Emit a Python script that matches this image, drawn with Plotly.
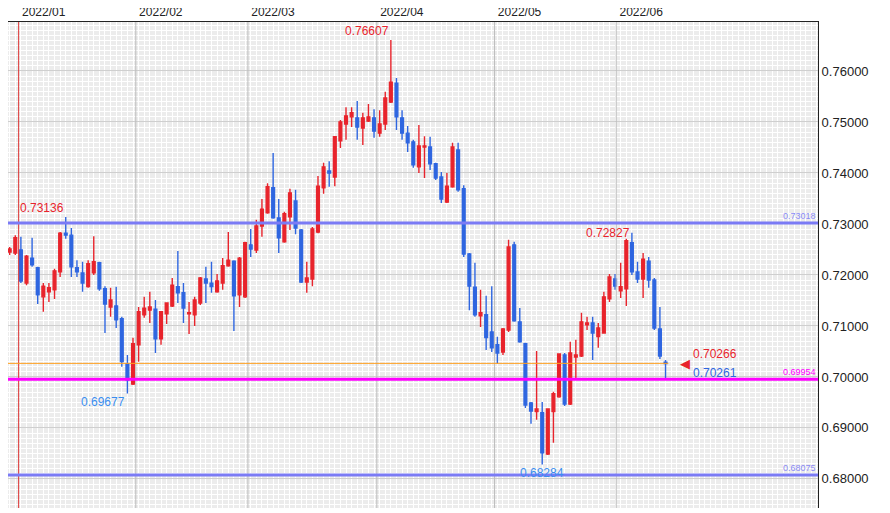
import plotly.graph_objects as go

# daily OHLC, 2021/12/31 .. 2022/06
opens = [0.7245, 0.7243, 0.7249, 0.7184, 0.7233, 0.7214, 0.7157, 0.7167, 0.7171, 0.7206,
         0.7282, 0.7278, 0.7214, 0.7204, 0.7177, 0.7204, 0.7224, 0.7173, 0.7137, 0.7139,
         0.7114, 0.7026, 0.6986, 0.7063, 0.7122, 0.7131, 0.7133, 0.7075, 0.7124, 0.7139,
         0.7177, 0.7165, 0.7124, 0.7122, 0.7145, 0.7192, 0.7184, 0.7167, 0.7184, 0.7218,
         0.7227, 0.7161, 0.7157, 0.7259, 0.7249, 0.7296, 0.7322, 0.7371, 0.7312, 0.7265,
         0.7314, 0.7345, 0.7288, 0.7186, 0.7192, 0.7284, 0.7371, 0.7404, 0.7392, 0.7463,
         0.7496, 0.7510, 0.7508, 0.7488, 0.7502, 0.7508, 0.7478, 0.7496, 0.7539, 0.7576,
         0.7508, 0.7478, 0.7461, 0.7412, 0.7451, 0.7451, 0.7418, 0.7392, 0.7343, 0.7373,
         0.7445, 0.7369, 0.7241, 0.7176, 0.7120, 0.7122, 0.7088, 0.7063, 0.7049, 0.7092,
         0.7259, 0.7108, 0.7065, 0.6949, 0.6932, 0.6930, 0.6849, 0.6932, 0.6961, 0.7043,
         0.6947, 0.7039, 0.7041, 0.7102, 0.7106, 0.7079, 0.7086, 0.7153, 0.7192, 0.7169,
         0.7173, 0.7263, 0.7206, 0.7192, 0.7227, 0.7190, 0.7094, 0.7029]
highs = [0.7255, 0.7278, 0.7275, 0.7239, 0.7273, 0.7216, 0.7184, 0.7184, 0.7212, 0.7284,
         0.73136, 0.7292, 0.7229, 0.7226, 0.7229, 0.7276, 0.7226, 0.7178, 0.7175, 0.7177,
         0.7118, 0.7043, 0.7077, 0.7137, 0.7157, 0.7167, 0.7151, 0.7128, 0.7145, 0.7194,
         0.7247, 0.7184, 0.7147, 0.7157, 0.7196, 0.7216, 0.7226, 0.7202, 0.7233, 0.7284,
         0.7229, 0.7235, 0.7265, 0.7290, 0.7308, 0.7349, 0.7380, 0.7439, 0.7349, 0.7324,
         0.7369, 0.7367, 0.7290, 0.7226, 0.7294, 0.7394, 0.7420, 0.7423, 0.7472, 0.7504,
         0.7529, 0.7529, 0.7541, 0.7518, 0.7535, 0.7525, 0.7523, 0.7559, 0.76607, 0.7586,
         0.7523, 0.7492, 0.7465, 0.7494, 0.7472, 0.7471, 0.7420, 0.7402, 0.7400, 0.7459,
         0.7459, 0.7376, 0.7243, 0.7224, 0.7171, 0.7159, 0.7178, 0.7079, 0.7096, 0.7269,
         0.7265, 0.7135, 0.7067, 0.6951, 0.7051, 0.6951, 0.6937, 0.6971, 0.7045, 0.7047,
         0.7069, 0.7073, 0.7126, 0.7118, 0.7118, 0.7106, 0.7167, 0.7202, 0.7202, 0.7224,
         0.7271, 0.72827, 0.7226, 0.7243, 0.7235, 0.7194, 0.7137, 0.7033]
lows = [0.7239, 0.7239, 0.7184, 0.7180, 0.7216, 0.7143, 0.7128, 0.7147, 0.7153, 0.7196,
        0.7271, 0.7196, 0.7196, 0.7167, 0.7175, 0.7200, 0.7169, 0.7086, 0.7118, 0.7096,
        0.7020, 0.69677, 0.6984, 0.7030, 0.7116, 0.7106, 0.7047, 0.7063, 0.7104, 0.7137,
        0.7145, 0.7106, 0.7084, 0.7100, 0.7141, 0.7145, 0.7165, 0.7165, 0.7171, 0.7216,
        0.7090, 0.7137, 0.7155, 0.7235, 0.7243, 0.7275, 0.7320, 0.7310, 0.7243, 0.7263,
        0.7288, 0.7280, 0.7184, 0.7165, 0.7178, 0.7282, 0.7359, 0.7373, 0.7374, 0.7449,
        0.7465, 0.7490, 0.7465, 0.7455, 0.7500, 0.7469, 0.7471, 0.7484, 0.7537, 0.7484,
        0.7465, 0.7441, 0.7410, 0.7400, 0.7390, 0.7406, 0.7386, 0.7341, 0.7341, 0.7371,
        0.7363, 0.7235, 0.7131, 0.7118, 0.7098, 0.7053, 0.7049, 0.7026, 0.7043, 0.7088,
        0.7108, 0.7067, 0.6939, 0.6908, 0.6916, 0.68284, 0.6847, 0.6871, 0.6959, 0.6943,
        0.6945, 0.6998, 0.7039, 0.7092, 0.7033, 0.7057, 0.7086, 0.7147, 0.7171, 0.7155,
        0.7139, 0.7200, 0.7184, 0.7155, 0.7175, 0.7092, 0.7035, 0.6996]
closes = [0.7251, 0.7273, 0.7188, 0.7237, 0.7220, 0.7161, 0.7178, 0.7175, 0.7208, 0.7282,
          0.7278, 0.7216, 0.7206, 0.7184, 0.7222, 0.7226, 0.7173, 0.7143, 0.7151, 0.7112,
          0.7030, 0.6994, 0.7065, 0.7128, 0.7135, 0.7137, 0.7075, 0.7128, 0.7145, 0.7180,
          0.7165, 0.7135, 0.7126, 0.7151, 0.7194, 0.7184, 0.7177, 0.7188, 0.7218, 0.7229,
          0.7159, 0.7233, 0.7263, 0.7251, 0.7296, 0.7329, 0.7373, 0.7312, 0.7273, 0.7320,
          0.7361, 0.7292, 0.7186, 0.7194, 0.7290, 0.7374, 0.7412, 0.7400, 0.7471, 0.7500,
          0.7512, 0.7518, 0.7490, 0.7508, 0.7510, 0.7482, 0.7496, 0.7547, 0.7578, 0.7510,
          0.7478, 0.7459, 0.7416, 0.7453, 0.7453, 0.7418, 0.7390, 0.7349, 0.7374, 0.7451,
          0.7367, 0.7241, 0.7178, 0.7122, 0.7126, 0.7077, 0.7057, 0.7047, 0.7094, 0.7255,
          0.7110, 0.7069, 0.6945, 0.6933, 0.6937, 0.6851, 0.6937, 0.6967, 0.7045, 0.6947,
          0.7047, 0.7043, 0.7108, 0.7106, 0.7086, 0.7096, 0.7157, 0.7196, 0.7178, 0.7177,
          0.7267, 0.7206, 0.7192, 0.7231, 0.7190, 0.7096, 0.7041, 0.70261]

month_labels = ["2022/01", "2022/02", "2022/03", "2022/04", "2022/05", "2022/06"]
month_pos = [1.6, 22.5, 42.5, 65.5, 86.5, 108.2]

lines_blue = [0.73018, 0.68075]
line_magenta = 0.69954
last_bid, last_ask = 0.70261, 0.70266

RED, BLUE = "#e8242c", "#2f66e0"
xs = list(range(len(opens)))
n = len(xs)

fig = go.Figure()
fig.add_trace(go.Candlestick(
    x=xs, open=opens, high=highs, low=lows, close=closes,
    increasing=dict(line=dict(color=RED, width=1.4), fillcolor=RED),
    decreasing=dict(line=dict(color=BLUE, width=1.4), fillcolor=BLUE),
    whiskerwidth=0, showlegend=False, hoverinfo="skip"))

shapes = []
for m, v in zip(month_labels, month_pos):
    shapes.append(dict(type="line", xref="x", yref="paper", x0=v, x1=v, y0=0, y1=1,
                       line=dict(color="#dd3333" if m == "2022/01" else "#bdbdbd", width=1),
                       layer="above"))
for v in lines_blue:
    shapes.append(dict(type="line", xref="paper", yref="y", x0=0, x1=1, y0=v, y1=v,
                       line=dict(color="#7b7bf5", width=3)))
shapes.append(dict(type="line", xref="paper", yref="y", x0=0, x1=1, y0=line_magenta, y1=line_magenta,
                   line=dict(color="#ff00ff", width=3)))
shapes.append(dict(type="line", xref="x", yref="y", x0=-2, x1=n - 0.5, y0=last_ask, y1=last_ask,
                   line=dict(color="#ffa020", width=1)))

annots = []
def note(x, y, text, color, size=12, xanchor="center", yanchor="middle", xref="x"):
    annots.append(dict(x=x, y=y, xref=xref, yref="y", text=text, showarrow=False,
                       font=dict(color=color, size=size, family="Liberation Sans"),
                       xanchor=xanchor, yanchor=yanchor))

note(10, highs[10], "0.73136", RED, xanchor="right", yanchor="bottom")
note(68, highs[68], "0.76607", RED, xanchor="right", yanchor="bottom")
note(111, highs[111], "0.72827", RED, xanchor="right", yanchor="middle")
note(21, lows[21], "0.69677", "#3a8ef0", xanchor="right", yanchor="top")
note(95, lows[95], "0.68284", "#3a8ef0", xanchor="center", yanchor="top")
note(n + 2.5, last_ask, "◀", RED, size=13)
note(n + 3.6, last_ask, "0.70266", RED, xanchor="left", yanchor="bottom")
note(n + 3.6, last_bid, "0.70261", "#2f66e0", xanchor="left", yanchor="top")
for v in lines_blue:
    note(1, v, f"{v:.5f}", "#8a8af5", size=9, xanchor="right", yanchor="bottom", xref="paper")
note(1, line_magenta, f"{line_magenta:.5f}", "#ff00ff", size=9, xanchor="right", yanchor="bottom", xref="paper")

fig.update_layout(
    width=890, height=513,
    margin=dict(l=0, r=80, t=14, b=13),
    paper_bgcolor="white", plot_bgcolor="#ececec",
    font=dict(family="Liberation Sans", color="#222", size=13),
    shapes=shapes, annotations=annots,
    xaxis=dict(side="top", range=[-0.3, 144.2], rangeslider=dict(visible=False),
               tickvals=month_pos, ticktext=month_labels, ticks="", ticklabelshift=25,
               ticklabelstandoff=0, automargin=False, tickfont=dict(size=12),
               showgrid=False, zeroline=False,
               minor=dict(dtick=1, tick0=0, showgrid=True, gridcolor="white", gridwidth=1),
               showline=True, linecolor="#222", linewidth=1, mirror=False),
    yaxis=dict(side="right", range=[0.6743, 0.7696], dtick=0.01, tick0=0.68, automargin=False,
               tickformat=".5f", ticks="", showgrid=True, gridcolor="#cfcfcf", gridwidth=1,
               minor=dict(dtick=0.001, showgrid=True, gridcolor="white", gridwidth=1),
               zeroline=False, showline=True, linecolor="#222", linewidth=1),
)

fig.write_html("out.html")
